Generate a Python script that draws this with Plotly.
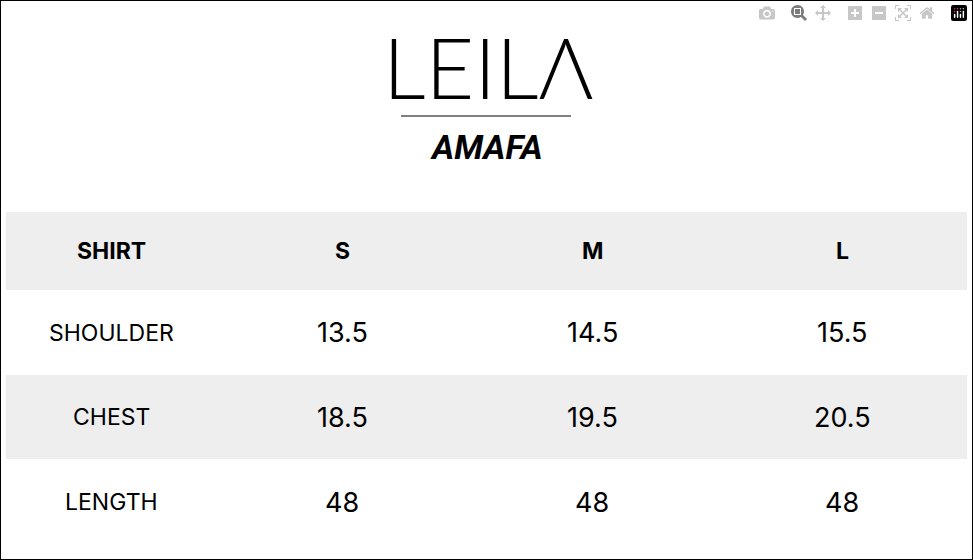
import plotly.graph_objects as go

header = ["SHIRT", "S", "M", "L"]
measures = ["SHOULDER", "CHEST", "LENGTH"]
size_s = ["13.5", "18.5", "48"]
size_m = ["14.5", "19.5", "48"]
size_l = ["15.5", "20.5", "48"]

W, H = 973, 560
grey = "#eeeeee"
col_x = [111, 342, 592, 842]
row_tops = [212, 290, 375, 459, 545]

def px(x):
    return x / W

def py(y):
    return 1 - y / H

fig = go.Figure()

# row backgrounds: header and every other body row are grey
for i in range(len(row_tops) - 1):
    if i % 2 == 0:
        fig.add_shape(type="rect", xref="paper", yref="paper", layer="below",
                      x0=px(6), x1=px(967), y0=py(row_tops[i + 1]), y1=py(row_tops[i]),
                      fillcolor=grey, line=dict(width=0))

def cell(text, col, row, size, bold=False):
    yc = (row_tops[row] + row_tops[row + 1]) / 2
    fig.add_annotation(text="<b>%s</b>" % text if bold else text,
                       xref="paper", yref="paper", x=px(col_x[col]), y=py(yc),
                       xanchor="center", yanchor="middle", showarrow=False,
                       font=dict(family="Inter", size=size, color="black"))

for c, h in enumerate(header):
    cell(h, c, 0, 23, bold=True)
for r, vals in enumerate(zip(measures, size_s, size_m, size_l)):
    for c, v in enumerate(vals):
        cell(v, c, r + 1, 23 if c == 0 else 27)

fig.add_shape(type="rect", xref="paper", yref="paper", x0=0, x1=1, y0=0, y1=1,
              line=dict(color="black", width=2))
fig.add_shape(type="line", xref="paper", yref="paper",
              x0=px(401), x1=px(571), y0=py(116), y1=py(116),
              line=dict(color="black", width=1))
fig.add_annotation(text="LEILΛ", xref="paper", yref="paper", x=px(488), y=py(66),
                   xanchor="center", yanchor="middle", showarrow=False,
                   font=dict(family="Lato", size=84, color="black", weight=300))
fig.add_annotation(text="<b><i>AMAFA</i></b>", xref="paper", yref="paper",
                   x=px(486), y=py(147), xanchor="center", yanchor="middle",
                   showarrow=False,
                   font=dict(family="Roboto", size=34, color="black"))

fig.update_xaxes(visible=False)
fig.update_yaxes(visible=False)
fig.update_layout(width=W, height=H, margin=dict(l=0, r=0, t=0, b=0),
                  paper_bgcolor="white", plot_bgcolor="white")
fig.write_html("out.html", post_script="document.body.style.margin='0';")
